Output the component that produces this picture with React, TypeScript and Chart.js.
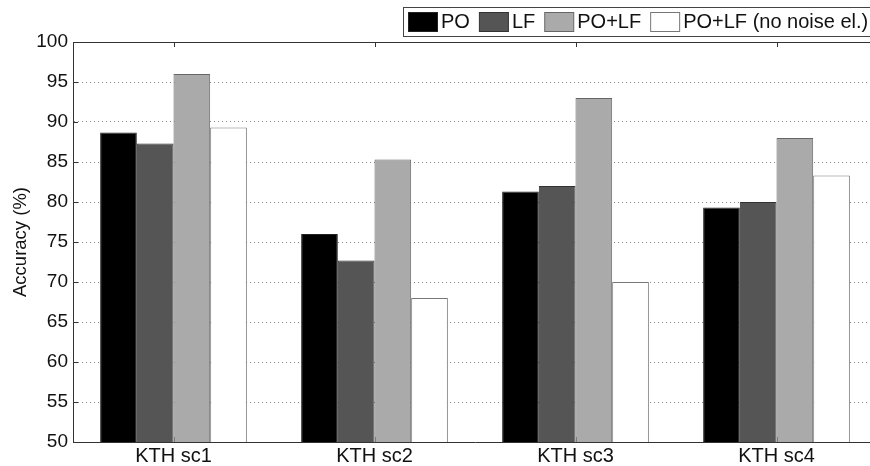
import React, { useEffect, useRef } from "react";
import { Chart, registerables } from "chart.js";

Chart.register(...registerables);

const categories = ["KTH sc1", "KTH sc2", "KTH sc3", "KTH sc4"];
const seriesNames = ["PO", "LF", "PO+LF", "PO+LF (no noise el.)"];
const poValues = [88.7, 76.0, 81.3, 79.3];
const lfValues = [87.3, 72.7, 82.0, 80.0];
const poLfValues = [96.0, 85.3, 93.0, 88.0];
const noNoiseValues = [89.3, 68.0, 70.0, 83.3];
const yMin = 50;
const yMax = 100;
const yStep = 5;
const yTitle = "Accuracy (%)";

const fillColors = ["#000000", "#555555", "#aaaaaa", "#ffffff"];
const edgeColors = ["#222222", "#333333", "#666666", "#777777"];
const FONT = "'Liberation Sans', Arial, Helvetica, sans-serif";

const framePlugin = {
  id: "frame",
  beforeDatasetsDraw(chart: any) {
    const { ctx, chartArea, scales } = chart;
    const { left, right, top, bottom } = chartArea;
    ctx.save();
    ctx.strokeStyle = "#333";
    ctx.lineWidth = 1;
    ctx.setLineDash([]);
    ctx.beginPath();
    ctx.moveTo(left, Math.round(top) + 0.5);
    ctx.lineTo(right, Math.round(top) + 0.5);
    const xs = scales.x;
    for (let i = 0; i < categories.length; i++) {
      const px = Math.round(xs.getPixelForTick(i)) + 0.5;
      ctx.moveTo(px, bottom);
      ctx.lineTo(px, bottom - 5);
      ctx.moveTo(px, top);
      ctx.lineTo(px, top + 5);
    }
    const ys = scales.y;
    ys.ticks.forEach((t: any) => {
      const py = Math.round(ys.getPixelForValue(t.value)) + 0.5;
      ctx.moveTo(left, py);
      ctx.lineTo(left + 5, py);
    });
    ctx.stroke();
    ctx.restore();
  },
  afterDraw(chart: any) {
    const { ctx } = chart;
    const ds = chart.data.datasets;
    ctx.save();
    const boxLeft = 403.5;
    const boxTop = 7.5;
    const boxH = 29;
    ctx.font = `20px ${FONT}`;
    let x = 408;
    const swW = 29;
    const swH = 19;
    const gapText = 4;
    const gapItem = 9;
    const items: { x: number; w: number }[] = [];
    ds.forEach((d: any) => {
      const tw = ctx.measureText(d.label).width;
      items.push({ x, w: tw });
      x += swW + gapText + tw + gapItem;
    });
    const boxRight = Math.max(x - gapItem + 4, 869.5);
    ctx.fillStyle = "#fff";
    ctx.fillRect(boxLeft, boxTop, boxRight - boxLeft, boxH);
    ctx.strokeStyle = "#444";
    ctx.lineWidth = 1;
    ctx.strokeRect(boxLeft, boxTop, boxRight - boxLeft, boxH);
    ds.forEach((d: any, i: number) => {
      const it = items[i];
      ctx.fillStyle = d.backgroundColor;
      ctx.fillRect(it.x + 0.5, 12.5, swW, swH);
      ctx.strokeStyle = d.borderColor;
      ctx.strokeRect(it.x + 0.5, 12.5, swW, swH);
      ctx.fillStyle = "#111";
      ctx.textBaseline = "middle";
      ctx.textAlign = "left";
      ctx.fillText(d.label, it.x + swW + gapText, 22.5);
    });
    ctx.restore();
  },
};

export default function App() {
  const ref = useRef<HTMLCanvasElement | null>(null);
  useEffect(() => {
    if (!ref.current) return;
    const values = [poValues, lfValues, poLfValues, noNoiseValues];
    const chart = new Chart(ref.current, {
      type: "bar",
      data: {
        labels: categories,
        datasets: seriesNames.map((name, i) => ({
          label: name,
          data: values[i],
          backgroundColor: fillColors[i],
          borderColor: edgeColors[i],
          borderWidth: 1,
          borderSkipped: "start",
          categoryPercentage: 0.73,
          barPercentage: 1.0,
        })),
      },
      options: {
        animation: false,
        responsive: false,
        maintainAspectRatio: false,
        layout: { padding: { left: 0, right: 3, top: 42, bottom: 0 } },
        plugins: {
          legend: { display: false },
          tooltip: { enabled: false },
        },
        scales: {
          x: {
            offset: true,
            grid: { display: false, drawTicks: false },
            border: { display: true, color: "#333", width: 1 },
            ticks: {
              color: "#111",
              font: { family: FONT, size: 20 },
              padding: 2,
              maxRotation: 0,
            },
            afterFit(s: any) {
              s.height = 24;
            },
          },
          y: {
            min: yMin,
            max: yMax,
            grid: {
              display: true,
              drawTicks: false,
              color: "#888",
              lineWidth: 1,
            },
            border: { display: true, color: "#333", width: 1, dash: [1, 3] },
            ticks: {
              stepSize: yStep,
              color: "#111",
              font: { family: FONT, size: 19 },
              padding: 5,
            },
            title: {
              display: true,
              text: yTitle,
              color: "#111",
              font: { family: FONT, size: 18.5 },
              padding: { top: 10, bottom: 0 },
            },
            afterFit(s: any) {
              s.width = 73;
            },
          },
        },
      },
      plugins: [framePlugin],
    });
    return () => chart.destroy();
  }, []);
  return (
    <div
      style={{
        position: "absolute",
        left: 0,
        top: 0,
        width: 870,
        height: 466,
        overflow: "hidden",
        background: "#fff",
      }}
    >
      <canvas ref={ref} width={880} height={466} style={{ display: "block" }} />
    </div>
  );
}
